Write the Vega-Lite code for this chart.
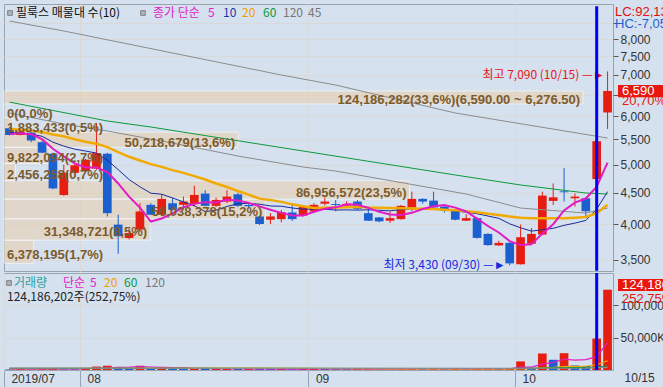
{
"$schema":"https://vega.github.io/schema/vega-lite/v6.json",
"background":"#d5e1ee",
"padding":{"left":3,"top":3,"right":0,"bottom":0},
"spacing":2,
"bounds":"flush",
"config":{
 "view":{"stroke":"#9aa4ae","fill":"#ffffff"},
 "axis":{"labelFont":"Liberation Sans","labelFontSize":12,"labelColor":"#333333","tickColor":"#555555","domain":false,"gridColor":"#d9d9d9","title":null},
 "text":{"font":"Noto Sans CJK KR","fontSize":12}
},
"datasets":{
"candles":[
{"d":"07/23","o":5730,"h":5760,"l":5580,"c":5590,"v":800000,"vc":"down"},
{"d":"07/24","o":5590,"h":5700,"l":5580,"c":5660,"v":1883433,"vc":"up"},
{"d":"07/25","o":5640,"h":5660,"l":5440,"c":5474,"v":800000,"vc":"down"},
{"d":"07/26","o":5440,"h":5474,"l":5220,"c":5229,"v":1500000,"vc":"up"},
{"d":"07/29","o":5210,"h":5230,"l":4560,"c":4575,"v":3000000,"vc":"up"},
{"d":"07/30","o":4465,"h":5000,"l":4450,"c":4850,"v":1300000,"vc":"down"},
{"d":"07/31","o":4850,"h":5010,"l":4830,"c":4990,"v":1156258,"vc":"down"},
{"d":"08/01","o":4880,"h":5110,"l":4870,"c":5095,"v":3000000,"vc":"up"},
{"d":"08/02","o":4928,"h":5843,"l":4904,"c":5223,"v":5300000,"vc":"up"},
{"d":"08/05","o":5210,"h":5230,"l":4119,"c":4170,"v":6600000,"vc":"up"},
{"d":"08/06","o":3995,"h":4146,"l":3582,"c":3825,"v":4500000,"vc":"down"},
{"d":"08/07","o":3801,"h":3940,"l":3780,"c":3872,"v":2600000,"vc":"down"},
{"d":"08/08","o":3921,"h":4328,"l":3900,"c":4197,"v":6600000,"vc":"up"},
{"d":"08/09","o":4302,"h":4328,"l":4140,"c":4146,"v":3000000,"vc":"down"},
{"d":"08/12","o":4146,"h":4475,"l":4130,"c":4399,"v":3500000,"vc":"up"},
{"d":"08/13","o":4328,"h":4420,"l":4210,"c":4223,"v":2500000,"vc":"down"},
{"d":"08/14","o":4302,"h":4437,"l":4239,"c":4355,"v":2000000,"vc":"down"},
{"d":"08/16","o":4318,"h":4621,"l":4275,"c":4465,"v":2500000,"vc":"up"},
{"d":"08/19","o":4487,"h":4545,"l":4280,"c":4286,"v":1800000,"vc":"down"},
{"d":"08/20","o":4286,"h":4420,"l":4270,"c":4383,"v":1900000,"vc":"up"},
{"d":"08/21","o":4355,"h":4545,"l":4330,"c":4437,"v":2000000,"vc":"up"},
{"d":"08/22","o":4475,"h":4500,"l":4270,"c":4286,"v":1500000,"vc":"down"},
{"d":"08/23","o":4300,"h":4330,"l":4240,"c":4280,"v":1550000,"vc":"up"},
{"d":"08/26","o":4119,"h":4130,"l":3990,"c":4004,"v":1450000,"vc":"down"},
{"d":"08/27","o":4069,"h":4170,"l":4004,"c":4119,"v":1400000,"vc":"down"},
{"d":"08/28","o":4078,"h":4220,"l":4030,"c":4186,"v":1600000,"vc":"up"},
{"d":"08/29","o":4181,"h":4302,"l":4050,"c":4078,"v":1200000,"vc":"down"},
{"d":"08/30","o":4130,"h":4290,"l":4120,"c":4275,"v":1800000,"vc":"up"},
{"d":"09/02","o":4197,"h":4330,"l":4170,"c":4302,"v":1850000,"vc":"up"},
{"d":"09/03","o":4320,"h":4420,"l":4290,"c":4355,"v":1600000,"vc":"down"},
{"d":"09/04","o":4315,"h":4380,"l":4200,"c":4300,"v":1400000,"vc":"down"},
{"d":"09/05","o":4290,"h":4360,"l":4260,"c":4318,"v":1300000,"vc":"down"},
{"d":"09/06","o":4355,"h":4380,"l":4220,"c":4239,"v":1500000,"vc":"up"},
{"d":"09/09","o":4170,"h":4275,"l":4050,"c":4054,"v":1600000,"vc":"up"},
{"d":"09/10","o":4104,"h":4110,"l":4030,"c":4044,"v":1200000,"vc":"down"},
{"d":"09/11","o":4054,"h":4197,"l":4020,"c":4093,"v":1100000,"vc":"down"},
{"d":"09/16","o":4078,"h":4300,"l":4070,"c":4286,"v":2000000,"vc":"up"},
{"d":"09/17","o":4260,"h":4520,"l":4197,"c":4399,"v":2200000,"vc":"up"},
{"d":"09/18","o":4399,"h":4410,"l":4320,"c":4355,"v":1500000,"vc":"down"},
{"d":"09/19","o":4371,"h":4520,"l":4250,"c":4260,"v":1600000,"vc":"up"},
{"d":"09/20","o":4275,"h":4290,"l":4180,"c":4207,"v":1300000,"vc":"down"},
{"d":"09/23","o":4207,"h":4220,"l":4060,"c":4069,"v":1500000,"vc":"up"},
{"d":"09/24","o":4054,"h":4155,"l":4050,"c":4093,"v":1200000,"vc":"down"},
{"d":"09/25","o":4093,"h":4104,"l":3790,"c":3801,"v":2000000,"vc":"up"},
{"d":"09/26","o":3858,"h":3870,"l":3690,"c":3700,"v":2300000,"vc":"up"},
{"d":"09/27","o":3696,"h":3760,"l":3690,"c":3731,"v":1800000,"vc":"down"},
{"d":"09/30","o":3731,"h":3740,"l":3430,"c":3455,"v":2300000,"vc":"up"},
{"d":"10/01","o":3444,"h":3995,"l":3440,"c":3811,"v":13300000,"vc":"up"},
{"d":"10/02","o":3718,"h":3944,"l":3700,"c":3858,"v":2500000,"vc":"down"},
{"d":"10/04","o":3849,"h":4520,"l":3840,"c":4454,"v":25500000,"vc":"up"},
{"d":"10/07","o":4366,"h":4661,"l":4300,"c":4425,"v":15800000,"vc":"down"},
{"d":"10/08","o":4525,"h":4940,"l":4355,"c":4510,"v":26000000,"vc":"up"},
{"d":"10/10","o":4409,"h":4490,"l":4275,"c":4437,"v":7000000,"vc":"down"},
{"d":"10/11","o":4409,"h":4430,"l":4119,"c":4200,"v":6200000,"vc":"down"},
{"d":"10/14","o":4738,"h":5460,"l":4700,"c":5460,"v":48600000,"vc":"up"},
{"d":"10/15","o":6080,"h":7090,"l":5715,"c":6590,"v":124186202,"vc":"up"}
],
"ma":[
{"d":"07/23","s":"5","p":5611},{"d":"07/24","s":"5","p":5625},{"d":"07/25","s":"5","p":5604},{"d":"07/26","s":"5","p":5501},{"d":"07/29","s":"5","p":5306},{"d":"07/30","s":"5","p":5158},{"d":"07/31","s":"5","p":5024},{"d":"08/01","s":"5","p":4948},{"d":"08/02","s":"5","p":4947},{"d":"08/05","s":"5","p":4866},{"d":"08/06","s":"5","p":4661},{"d":"08/07","s":"5","p":4437},{"d":"08/08","s":"5","p":4257},{"d":"08/09","s":"5","p":4042},{"d":"08/12","s":"5","p":4088},{"d":"08/13","s":"5","p":4167},{"d":"08/14","s":"5","p":4264},{"d":"08/16","s":"5","p":4318},{"d":"08/19","s":"5","p":4346},{"d":"08/20","s":"5","p":4342},{"d":"08/21","s":"5","p":4385},{"d":"08/22","s":"5","p":4371},{"d":"08/23","s":"5","p":4334},{"d":"08/26","s":"5","p":4278},{"d":"08/27","s":"5","p":4225},{"d":"08/28","s":"5","p":4175},{"d":"08/29","s":"5","p":4133},{"d":"08/30","s":"5","p":4132},{"d":"09/02","s":"5","p":4192},{"d":"09/03","s":"5","p":4239},{"d":"09/04","s":"5","p":4262},{"d":"09/05","s":"5","p":4310},{"d":"09/06","s":"5","p":4303},{"d":"09/09","s":"5","p":4253},{"d":"09/10","s":"5","p":4191},{"d":"09/11","s":"5","p":4150},{"d":"09/16","s":"5","p":4143},{"d":"09/17","s":"5","p":4175},{"d":"09/18","s":"5","p":4235},{"d":"09/19","s":"5","p":4279},{"d":"09/20","s":"5","p":4301},{"d":"09/23","s":"5","p":4258},{"d":"09/24","s":"5","p":4197},{"d":"09/25","s":"5","p":4086},{"d":"09/26","s":"5","p":3974},{"d":"09/27","s":"5","p":3879},{"d":"09/30","s":"5","p":3756},{"d":"10/01","s":"5","p":3700},{"d":"10/02","s":"5","p":3711},{"d":"10/04","s":"5","p":3862},{"d":"10/07","s":"5","p":4001},{"d":"10/08","s":"5","p":4212},{"d":"10/10","s":"5","p":4337},{"d":"10/11","s":"5","p":4405},{"d":"10/14","s":"5","p":4606},{"d":"10/15","s":"5","p":5039},
{"d":"07/23","s":"10","p":5646},{"d":"07/24","s":"10","p":5625},{"d":"07/25","s":"10","p":5604},{"d":"07/26","s":"10","p":5562},{"d":"07/29","s":"10","p":5440},{"d":"07/30","s":"10","p":5360},{"d":"07/31","s":"10","p":5300},{"d":"08/01","s":"10","p":5262},{"d":"08/02","s":"10","p":5223},{"d":"08/05","s":"10","p":5084},{"d":"08/06","s":"10","p":4909},{"d":"08/07","s":"10","p":4730},{"d":"08/08","s":"10","p":4603},{"d":"08/09","s":"10","p":4494},{"d":"08/12","s":"10","p":4477},{"d":"08/13","s":"10","p":4414},{"d":"08/14","s":"10","p":4351},{"d":"08/16","s":"10","p":4288},{"d":"08/19","s":"10","p":4194},{"d":"08/20","s":"10","p":4215},{"d":"08/21","s":"10","p":4276},{"d":"08/22","s":"10","p":4318},{"d":"08/23","s":"10","p":4326},{"d":"08/26","s":"10","p":4312},{"d":"08/27","s":"10","p":4284},{"d":"08/28","s":"10","p":4280},{"d":"08/29","s":"10","p":4252},{"d":"08/30","s":"10","p":4233},{"d":"09/02","s":"10","p":4235},{"d":"09/03","s":"10","p":4232},{"d":"09/04","s":"10","p":4219},{"d":"09/05","s":"10","p":4222},{"d":"09/06","s":"10","p":4218},{"d":"09/09","s":"10","p":4223},{"d":"09/10","s":"10","p":4215},{"d":"09/11","s":"10","p":4206},{"d":"09/16","s":"10","p":4227},{"d":"09/17","s":"10","p":4239},{"d":"09/18","s":"10","p":4244},{"d":"09/19","s":"10","p":4235},{"d":"09/20","s":"10","p":4226},{"d":"09/23","s":"10","p":4201},{"d":"09/24","s":"10","p":4186},{"d":"09/25","s":"10","p":4161},{"d":"09/26","s":"10","p":4126},{"d":"09/27","s":"10","p":4090},{"d":"09/30","s":"10","p":4007},{"d":"10/01","s":"10","p":3948},{"d":"10/02","s":"10","p":3899},{"d":"10/04","s":"10","p":3918},{"d":"10/07","s":"10","p":3940},{"d":"10/08","s":"10","p":3984},{"d":"10/10","s":"10","p":4018},{"d":"10/11","s":"10","p":4058},{"d":"10/14","s":"10","p":4234},{"d":"10/15","s":"10","p":4520},
{"d":"07/23","s":"20","p":5720},{"d":"07/24","s":"20","p":5700},{"d":"07/25","s":"20","p":5680},{"d":"07/26","s":"20","p":5650},{"d":"07/29","s":"20","p":5600},{"d":"07/30","s":"20","p":5560},{"d":"07/31","s":"20","p":5500},{"d":"08/01","s":"20","p":5450},{"d":"08/02","s":"20","p":5410},{"d":"08/05","s":"20","p":5340},{"d":"08/06","s":"20","p":5240},{"d":"08/07","s":"20","p":5150},{"d":"08/08","s":"20","p":5080},{"d":"08/09","s":"20","p":5010},{"d":"08/12","s":"20","p":4960},{"d":"08/13","s":"20","p":4900},{"d":"08/14","s":"20","p":4850},{"d":"08/16","s":"20","p":4790},{"d":"08/19","s":"20","p":4730},{"d":"08/20","s":"20","p":4660},{"d":"08/21","s":"20","p":4600},{"d":"08/22","s":"20","p":4530},{"d":"08/23","s":"20","p":4470},{"d":"08/26","s":"20","p":4403},{"d":"08/27","s":"20","p":4380},{"d":"08/28","s":"20","p":4350},{"d":"08/29","s":"20","p":4310},{"d":"08/30","s":"20","p":4280},{"d":"09/02","s":"20","p":4250},{"d":"09/03","s":"20","p":4255},{"d":"09/04","s":"20","p":4260},{"d":"09/05","s":"20","p":4265},{"d":"09/06","s":"20","p":4270},{"d":"09/09","s":"20","p":4260},{"d":"09/10","s":"20","p":4255},{"d":"09/11","s":"20","p":4250},{"d":"09/16","s":"20","p":4248},{"d":"09/17","s":"20","p":4245},{"d":"09/18","s":"20","p":4240},{"d":"09/19","s":"20","p":4235},{"d":"09/20","s":"20","p":4225},{"d":"09/23","s":"20","p":4215},{"d":"09/24","s":"20","p":4202},{"d":"09/25","s":"20","p":4185},{"d":"09/26","s":"20","p":4160},{"d":"09/27","s":"20","p":4140},{"d":"09/30","s":"20","p":4117},{"d":"10/01","s":"20","p":4100},{"d":"10/02","s":"20","p":4090},{"d":"10/04","s":"20","p":4092},{"d":"10/07","s":"20","p":4092},{"d":"10/08","s":"20","p":4092},{"d":"10/10","s":"20","p":4100},{"d":"10/11","s":"20","p":4110},{"d":"10/14","s":"20","p":4170},{"d":"10/15","s":"20","p":4305},
{"d":"07/23","s":"60","p":6321},{"d":"08/05","s":"60","p":5889},{"d":"08/09","s":"60","p":5758},{"d":"08/21","s":"60","p":5505},{"d":"08/30","s":"60","p":5263},{"d":"09/10","s":"60","p":5032},{"d":"09/23","s":"60","p":4811},{"d":"10/01","s":"60","p":4634},{"d":"10/11","s":"60","p":4497},{"d":"10/15","s":"60","p":4480},
{"d":"07/23","s":"120","p":8564},{"d":"07/30","s":"120","p":8249},{"d":"08/28","s":"120","p":6996},{"d":"09/04","s":"120","p":6738},{"d":"09/23","s":"120","p":6068},{"d":"10/15","s":"120","p":5525},
{"d":"07/23","s":"45","p":6068},{"d":"07/30","s":"45","p":5823},{"d":"08/05","s":"45","p":5672},{"d":"08/13","s":"45","p":5423},{"d":"08/22","s":"45","p":5165},{"d":"08/30","s":"45","p":4957},{"d":"09/04","s":"45","p":4883},{"d":"09/24","s":"45","p":4480},{"d":"10/01","s":"45","p":4251},{"d":"10/11","s":"45","p":4172},{"d":"10/15","s":"45","p":4251}
],
"vma":[
{"d":"07/23","s":"5","v":1500000},{"d":"07/24","s":"5","v":1400000},{"d":"07/25","s":"5","v":1300000},{"d":"07/26","s":"5","v":1300000},{"d":"07/29","s":"5","v":1600000},{"d":"07/30","s":"5","v":1700000},{"d":"07/31","s":"5","v":1550000},{"d":"08/01","s":"5","v":2000000},{"d":"08/02","s":"5","v":2750000},{"d":"08/05","s":"5","v":3470000},{"d":"08/06","s":"5","v":4110000},{"d":"08/07","s":"5","v":4400000},{"d":"08/08","s":"5","v":5120000},{"d":"08/09","s":"5","v":4660000},{"d":"08/12","s":"5","v":4040000},{"d":"08/13","s":"5","v":3640000},{"d":"08/14","s":"5","v":3520000},{"d":"08/16","s":"5","v":2700000},{"d":"08/19","s":"5","v":2460000},{"d":"08/20","s":"5","v":2140000},{"d":"08/21","s":"5","v":2040000},{"d":"08/22","s":"5","v":1940000},{"d":"08/23","s":"5","v":1750000},{"d":"08/26","s":"5","v":1680000},{"d":"08/27","s":"5","v":1580000},{"d":"08/28","s":"5","v":1500000},{"d":"08/29","s":"5","v":1440000},{"d":"08/30","s":"5","v":1490000},{"d":"09/02","s":"5","v":1570000},{"d":"09/03","s":"5","v":1610000},{"d":"09/04","s":"5","v":1570000},{"d":"09/05","s":"5","v":1590000},{"d":"09/06","s":"5","v":1530000},{"d":"09/09","s":"5","v":1480000},{"d":"09/10","s":"5","v":1400000},{"d":"09/11","s":"5","v":1340000},{"d":"09/16","s":"5","v":1480000},{"d":"09/17","s":"5","v":1620000},{"d":"09/18","s":"5","v":1600000},{"d":"09/19","s":"5","v":1680000},{"d":"09/20","s":"5","v":1720000},{"d":"09/23","s":"5","v":1620000},{"d":"09/24","s":"5","v":1420000},{"d":"09/25","s":"5","v":1520000},{"d":"09/26","s":"5","v":1660000},{"d":"09/27","s":"5","v":1760000},{"d":"09/30","s":"5","v":1920000},{"d":"10/01","s":"5","v":4340000},{"d":"10/02","s":"5","v":4440000},{"d":"10/04","s":"5","v":9080000},{"d":"10/07","s":"5","v":11880000},{"d":"10/08","s":"5","v":16620000},{"d":"10/10","s":"5","v":15360000},{"d":"10/11","s":"5","v":16100000},{"d":"10/14","s":"5","v":20720000},{"d":"10/15","s":"5","v":42400000},
{"d":"07/23","s":"20","v":2200000},{"d":"08/06","s":"20","v":2600000},{"d":"08/21","s":"20","v":3000000},{"d":"08/30","s":"20","v":2500000},{"d":"09/11","s":"20","v":1700000},{"d":"09/30","s":"20","v":1600000},{"d":"10/01","s":"20","v":2200000},{"d":"10/02","s":"20","v":2200000},{"d":"10/04","s":"20","v":3400000},{"d":"10/07","s":"20","v":4100000},{"d":"10/08","s":"20","v":5300000},{"d":"10/10","s":"20","v":5600000},{"d":"10/11","s":"20","v":5800000},{"d":"10/14","s":"20","v":8100000},{"d":"10/15","s":"20","v":14300000},
{"d":"07/23","s":"60","v":2600000},{"d":"08/21","s":"60","v":2600000},{"d":"09/30","s":"60","v":2300000},{"d":"10/01","s":"60","v":2500000},{"d":"10/04","s":"60","v":2900000},{"d":"10/08","s":"60","v":3600000},{"d":"10/11","s":"60","v":3800000},{"d":"10/14","s":"60","v":4600000},{"d":"10/15","s":"60","v":6600000},
{"d":"07/23","s":"120","v":2800000},{"d":"09/30","s":"120","v":2500000},{"d":"10/04","s":"120","v":2700000},{"d":"10/11","s":"120","v":3000000},{"d":"10/15","s":"120","v":4000000}
],
"profile":[
{"lo":6276.5,"hi":6590,"mid":6433,"vol":124186282,"label":"124,186,282(33,6%)(6,590.00 ~ 6,276.50)"},
{"lo":5963,"hi":6276.5,"mid":6120,"vol":0,"label":"0(0,0%)"},
{"lo":5649.5,"hi":5963,"mid":5806,"vol":1883433,"label":"1,883,433(0,5%)"},
{"lo":5336,"hi":5649.5,"mid":5493,"vol":50218679,"label":"50,218,679(13,6%)"},
{"lo":5022.5,"hi":5336,"mid":5179,"vol":9822094,"label":"9,822,094(2,7%)"},
{"lo":4709,"hi":5022.5,"mid":4866,"vol":2456258,"label":"2,456,258(0,7%)"},
{"lo":4395.5,"hi":4709,"mid":4552,"vol":86956572,"label":"86,956,572(23,5%)"},
{"lo":4082,"hi":4395.5,"mid":4239,"vol":56038378,"label":"56,038,378(15,2%)"},
{"lo":3768.5,"hi":4082,"mid":3925,"vol":31348721,"label":"31,348,721(8,5%)"},
{"lo":3455,"hi":3768.5,"mid":3612,"vol":6378195,"label":"6,378,195(1,7%)"}
]
},
"vconcat":[
{
 "width":609,"height":267,
 "resolve":{"scale":{"x":"independent"}},
 "layer":[
  {"data":{"name":"profile"},
   "mark":{"type":"rect","color":"#eccfa8","opacity":0.5,"stroke":"#ffffff","strokeWidth":1},
   "encoding":{
    "x":{"field":"vol","type":"quantitative","scale":{"domain":[0,130600000],"nice":false,"zero":true},"axis":null},
    "x2":{"datum":0},
    "y":{"field":"hi","type":"quantitative","scale":{"type":"log","domain":[3358,9127],"nice":false,"zero":false},
         "axis":{"orient":"right","values":[3500,4000,4500,5000,5500,6000,6500,7000,7500,8000,8500],"grid":true,"tickSize":5,"labelPadding":2,"labelOverlap":false,"labelExpr":"datum.value == 8500 || datum.value == 6500 ? '' : format(datum.value, ',')"}},
    "y2":{"field":"lo"}
   }},
  {"layer":[
   {"data":{"name":"candles"},"mark":{"type":"rule","strokeWidth":1},
    "encoding":{
     "x":{"field":"d","type":"ordinal","scale":{"type":"band","domain":["07/23","07/24","07/25","07/26","07/29","07/30","07/31","08/01","08/02","08/05","08/06","08/07","08/08","08/09","08/12","08/13","08/14","08/16","08/19","08/20","08/21","08/22","08/23","08/26","08/27","08/28","08/29","08/30","09/02","09/03","09/04","09/05","09/06","09/09","09/10","09/11","09/16","09/17","09/18","09/19","09/20","09/23","09/24","09/25","09/26","09/27","09/30","10/01","10/02","10/04","10/07","10/08","10/10","10/11","10/14","10/15"],"paddingInner":0,"paddingOuter":0},
          "axis":{"values":["08/01","09/02","10/01"],"bandPosition":0,"grid":true,"labels":false,"ticks":false,"domain":false,"tickSize":0,"labelPadding":0,"minExtent":0,"maxExtent":0}},
     "y":{"field":"l","type":"quantitative","scale":{"type":"log","domain":[3358,9127],"nice":false,"zero":false}},
     "y2":{"field":"h"},
     "color":{"condition":{"test":"datum.c >= datum.o","value":"#e61e12"},"value":"#1c5fcf"}
    }},
   {"data":{"name":"candles"},"mark":{"type":"bar","width":{"band":0.8}},
    "encoding":{
     "x":{"field":"d","type":"ordinal","scale":{"type":"band","domain":["07/23","07/24","07/25","07/26","07/29","07/30","07/31","08/01","08/02","08/05","08/06","08/07","08/08","08/09","08/12","08/13","08/14","08/16","08/19","08/20","08/21","08/22","08/23","08/26","08/27","08/28","08/29","08/30","09/02","09/03","09/04","09/05","09/06","09/09","09/10","09/11","09/16","09/17","09/18","09/19","09/20","09/23","09/24","09/25","09/26","09/27","09/30","10/01","10/02","10/04","10/07","10/08","10/10","10/11","10/14","10/15"],"paddingInner":0,"paddingOuter":0}},
     "y":{"field":"o","type":"quantitative","scale":{"type":"log","domain":[3358,9127],"nice":false,"zero":false}},
     "y2":{"field":"c"},
     "color":{"condition":{"test":"datum.c >= datum.o","value":"#e61e12"},"value":"#1c5fcf"}
    }},
   {"data":{"name":"ma"},"transform":[{"filter":"datum.s != '5' && datum.s != '20'"}],"mark":{"type":"line","strokeWidth":1},
    "encoding":{
     "x":{"field":"d","type":"ordinal","scale":{"type":"band","domain":["07/23","07/24","07/25","07/26","07/29","07/30","07/31","08/01","08/02","08/05","08/06","08/07","08/08","08/09","08/12","08/13","08/14","08/16","08/19","08/20","08/21","08/22","08/23","08/26","08/27","08/28","08/29","08/30","09/02","09/03","09/04","09/05","09/06","09/09","09/10","09/11","09/16","09/17","09/18","09/19","09/20","09/23","09/24","09/25","09/26","09/27","09/30","10/01","10/02","10/04","10/07","10/08","10/10","10/11","10/14","10/15"],"paddingInner":0,"paddingOuter":0}},
     "y":{"field":"p","type":"quantitative","scale":{"type":"log","domain":[3358,9127],"nice":false,"zero":false}},
     "color":{"field":"s","type":"nominal","scale":{"domain":["120","45","60","20","10","5"],"range":["#8c8c8c","#8c8c8c","#0c9a3c","#f2a900","#1a2a9c","#e21bc4"]},"legend":null}
    }},
   {"data":{"name":"ma"},"transform":[{"filter":"datum.s == '20'"}],"mark":{"type":"line","strokeWidth":2.5},
    "encoding":{
     "x":{"field":"d","type":"ordinal","scale":{"type":"band","domain":["07/23","07/24","07/25","07/26","07/29","07/30","07/31","08/01","08/02","08/05","08/06","08/07","08/08","08/09","08/12","08/13","08/14","08/16","08/19","08/20","08/21","08/22","08/23","08/26","08/27","08/28","08/29","08/30","09/02","09/03","09/04","09/05","09/06","09/09","09/10","09/11","09/16","09/17","09/18","09/19","09/20","09/23","09/24","09/25","09/26","09/27","09/30","10/01","10/02","10/04","10/07","10/08","10/10","10/11","10/14","10/15"],"paddingInner":0,"paddingOuter":0}},
     "y":{"field":"p","type":"quantitative","scale":{"type":"log","domain":[3358,9127],"nice":false,"zero":false}},
     "color":{"field":"s","type":"nominal","scale":{"domain":["120","45","60","20","10","5"],"range":["#8c8c8c","#8c8c8c","#0c9a3c","#f2a900","#1a2a9c","#e21bc4"]},"legend":null}
    }},
   {"data":{"name":"ma"},"transform":[{"filter":"datum.s == '5'"}],"mark":{"type":"line","strokeWidth":2},
    "encoding":{
     "x":{"field":"d","type":"ordinal","scale":{"type":"band","domain":["07/23","07/24","07/25","07/26","07/29","07/30","07/31","08/01","08/02","08/05","08/06","08/07","08/08","08/09","08/12","08/13","08/14","08/16","08/19","08/20","08/21","08/22","08/23","08/26","08/27","08/28","08/29","08/30","09/02","09/03","09/04","09/05","09/06","09/09","09/10","09/11","09/16","09/17","09/18","09/19","09/20","09/23","09/24","09/25","09/26","09/27","09/30","10/01","10/02","10/04","10/07","10/08","10/10","10/11","10/14","10/15"],"paddingInner":0,"paddingOuter":0}},
     "y":{"field":"p","type":"quantitative","scale":{"type":"log","domain":[3358,9127],"nice":false,"zero":false}},
     "color":{"field":"s","type":"nominal","scale":{"domain":["120","45","60","20","10","5"],"range":["#8c8c8c","#8c8c8c","#0c9a3c","#f2a900","#1a2a9c","#e21bc4"]},"legend":null}
    }},
   {"data":{"values":[{}]},
    "mark":{"type":"text","align":"right","baseline":"middle","dx":-3,"dy":4,"color":"#e8141c","font":"Noto Sans CJK KR","fontSize":12,"text":"최고 7,090 (10/15) —►"},
    "encoding":{"x":{"datum":"10/15","type":"ordinal"},"y":{"datum":7090,"type":"quantitative"}}},
   {"data":{"values":[{}]},
    "mark":{"type":"text","align":"right","baseline":"middle","dx":-4,"dy":0,"color":"#1428e0","font":"Noto Sans CJK KR","fontSize":12,"text":"최저 3,430 (09/30) —►"},
    "encoding":{"x":{"datum":"09/30","type":"ordinal"},"y":{"datum":3430,"type":"quantitative"}}},
   {"data":{"values":[{}]},
    "mark":{"type":"rect","x":614,"x2":662,"color":"#e8180f"},
    "encoding":{"y":{"datum":6737,"type":"quantitative"},"y2":{"datum":6438}}},
   {"data":{"values":[{}]},
    "mark":{"type":"text","x":618,"align":"left","baseline":"middle","color":"#ffffff","font":"Liberation Sans","fontSize":13,"text":"6,590"},
    "encoding":{"y":{"datum":6590,"type":"quantitative"}}},
   {"data":{"values":[{}]},
    "mark":{"type":"text","x":618,"align":"left","baseline":"middle","color":"#e8180f","font":"Liberation Sans","fontSize":13,"text":"20,70%"},
    "encoding":{"y":{"datum":6347,"type":"quantitative"}}},
   {"data":{"values":[{}]},"mark":{"type":"text","x":611,"y":8,"align":"left","baseline":"middle","color":"#e01010","font":"Liberation Sans","fontSize":13,"text":"LC:92,13%"}},
   {"data":{"values":[{}]},"mark":{"type":"text","x":611,"y":20,"align":"left","baseline":"middle","color":"#1f5fd0","font":"Liberation Sans","fontSize":13,"text":"HC:-7,05%"}},
   {"data":{"values":[{}]},"mark":{"type":"point","shape":"square","x":6,"y":9,"size":22,"filled":true,"color":"#a0a0a0","stroke":"#5a5a5a","strokeWidth":1}},
   {"data":{"values":[{}]},"mark":{"type":"point","shape":"square","x":139,"y":9,"size":22,"filled":true,"color":"#a0a0a0","stroke":"#5a5a5a","strokeWidth":1}},
   {"data":{"values":[{}]},"mark":{"type":"text","x":12,"y":9,"align":"left","baseline":"middle","color":"#111111","text":"필룩스 매물대 수(10)"}},
   {"data":{"values":[{}]},"mark":{"type":"text","x":149,"y":9,"align":"left","baseline":"middle","color":"#e11ec8","text":"종가 단순"}},
   {"data":{"values":[{}]},"mark":{"type":"text","x":204,"y":9,"align":"left","baseline":"middle","color":"#e11ec8","text":"5"}},
   {"data":{"values":[{}]},"mark":{"type":"text","x":219,"y":9,"align":"left","baseline":"middle","color":"#1a35b0","text":"10"}},
   {"data":{"values":[{}]},"mark":{"type":"text","x":238,"y":9,"align":"left","baseline":"middle","color":"#f0a000","text":"20"}},
   {"data":{"values":[{}]},"mark":{"type":"text","x":259,"y":9,"align":"left","baseline":"middle","color":"#0c9a3c","text":"60"}},
   {"data":{"values":[{}]},"mark":{"type":"text","x":279,"y":9,"align":"left","baseline":"middle","color":"#777777","text":"120"}},
   {"data":{"values":[{}]},"mark":{"type":"text","x":304,"y":9,"align":"left","baseline":"middle","color":"#777777","text":"45"}},
   {"data":{"values":[{}]},"mark":{"type":"rule","color":"#0000ff","strokeWidth":3},
    "encoding":{"x":{"datum":"10/14","type":"ordinal"},"y":{"datum":9050,"type":"quantitative"},"y2":{"datum":3362}}}
  ]},
  {"data":{"name":"profile"},
   "layer":[
    {"transform":[{"filter":"datum.vol >= 20000000"}],
     "mark":{"type":"text","align":"right","baseline":"middle","dx":-3,"dy":3,"font":"Liberation Sans","fontSize":13,"fontWeight":"bold","color":"#7b5b2e"},
     "encoding":{
      "x":{"field":"vol","type":"quantitative","scale":{"domain":[0,130600000],"nice":false,"zero":true},"axis":null},
      "y":{"field":"mid","type":"quantitative","scale":{"type":"log","domain":[3358,9127],"nice":false,"zero":false}},
      "text":{"field":"label"}}},
    {"transform":[{"filter":"datum.vol < 20000000"}],
     "mark":{"type":"text","align":"left","baseline":"middle","dx":3,"dy":3,"font":"Liberation Sans","fontSize":13,"fontWeight":"bold","color":"#7b5b2e"},
     "encoding":{
      "x":{"datum":0,"type":"quantitative","scale":{"domain":[0,130600000],"nice":false,"zero":true},"axis":null},
      "y":{"field":"mid","type":"quantitative","scale":{"type":"log","domain":[3358,9127],"nice":false,"zero":false}},
      "text":{"field":"label"}}}
   ]}
 ]
},
{
 "width":609,"height":97,
 "resolve":{"scale":{"color":"independent"}},
 "layer":[
  {"data":{"name":"candles"},"mark":{"type":"bar","width":{"band":0.8}},
   "encoding":{
    "x":{"field":"d","type":"ordinal","scale":{"type":"band","domain":["07/23","07/24","07/25","07/26","07/29","07/30","07/31","08/01","08/02","08/05","08/06","08/07","08/08","08/09","08/12","08/13","08/14","08/16","08/19","08/20","08/21","08/22","08/23","08/26","08/27","08/28","08/29","08/30","09/02","09/03","09/04","09/05","09/06","09/09","09/10","09/11","09/16","09/17","09/18","09/19","09/20","09/23","09/24","09/25","09/26","09/27","09/30","10/01","10/02","10/04","10/07","10/08","10/10","10/11","10/14","10/15"],"paddingInner":0,"paddingOuter":0},
         "axis":{"orient":"bottom","values":["07/23","08/01","09/02","10/01"],"bandPosition":0,"grid":true,"labelExpr":"datum.value == '07/23' ? '2019/07' : slice(datum.value, 0, 2)","labelAlign":"left","labelBaseline":"top","labelOffset":2,"labelAngle":0,"tickSize":18,"labelPadding":-15,"tickColor":"#97a3b0","labelOverlap":false}},
    "y":{"field":"v","type":"quantitative","scale":{"domain":[0,150000000],"nice":false,"zero":true},
         "axis":{"orient":"right","values":[50000000,100000000],"grid":true,"tickSize":5,"labelPadding":2,"labelOverlap":false,"labelExpr":"format(datum.value/1000, ',') + 'K'"}},
    "color":{"field":"vc","type":"nominal","scale":{"domain":["up","down"],"range":["#e61e12","#1c5fcf"]},"legend":null}
   }},
  {"data":{"name":"vma"},"mark":{"type":"line","strokeWidth":1.2},
   "encoding":{
    "x":{"field":"d","type":"ordinal","scale":{"type":"band","domain":["07/23","07/24","07/25","07/26","07/29","07/30","07/31","08/01","08/02","08/05","08/06","08/07","08/08","08/09","08/12","08/13","08/14","08/16","08/19","08/20","08/21","08/22","08/23","08/26","08/27","08/28","08/29","08/30","09/02","09/03","09/04","09/05","09/06","09/09","09/10","09/11","09/16","09/17","09/18","09/19","09/20","09/23","09/24","09/25","09/26","09/27","09/30","10/01","10/02","10/04","10/07","10/08","10/10","10/11","10/14","10/15"],"paddingInner":0,"paddingOuter":0}},
    "y":{"field":"v","type":"quantitative","scale":{"domain":[0,150000000],"nice":false,"zero":true}},
    "color":{"field":"s","type":"nominal","scale":{"domain":["120","60","20","5"],"range":["#8c8c8c","#0c9a3c","#f2a900","#e21bc4"]},"legend":null}
   }},
  {"data":{"values":[{}]},"mark":{"type":"rule","color":"#0000ff","strokeWidth":3},
   "encoding":{"x":{"datum":"10/14","type":"ordinal"}}},
  {"data":{"values":[{}]},"mark":{"type":"point","shape":"square","x":5,"y":10,"size":22,"filled":true,"color":"#a0a0a0","stroke":"#5a5a5a","strokeWidth":1}},
  {"data":{"values":[{}]},"mark":{"type":"text","x":10,"y":10,"align":"left","baseline":"middle","color":"#2f9fa0","text":"거래량"}},
  {"data":{"values":[{}]},"mark":{"type":"text","x":59,"y":10,"align":"left","baseline":"middle","color":"#e11ec8","text":"단순"}},
  {"data":{"values":[{}]},"mark":{"type":"text","x":86,"y":10,"align":"left","baseline":"middle","color":"#e11ec8","text":"5"}},
  {"data":{"values":[{}]},"mark":{"type":"text","x":100,"y":10,"align":"left","baseline":"middle","color":"#f0a000","text":"20"}},
  {"data":{"values":[{}]},"mark":{"type":"text","x":120,"y":10,"align":"left","baseline":"middle","color":"#0c9a3c","text":"60"}},
  {"data":{"values":[{}]},"mark":{"type":"text","x":141,"y":10,"align":"left","baseline":"middle","color":"#777777","text":"120"}},
  {"data":{"values":[{}]},"mark":{"type":"text","x":3,"y":24,"align":"left","baseline":"middle","color":"#222222","text":"124,186,202주(252,75%)"}},
  {"data":{"values":[{}]},"mark":{"type":"rect","x":614,"x2":662,"color":"#e8180f"},
   "encoding":{"y":{"datum":140700000,"type":"quantitative"},"y2":{"datum":122200000}}},
  {"data":{"values":[{}]},"mark":{"type":"text","x":618,"align":"left","baseline":"middle","color":"#ffffff","font":"Liberation Sans","fontSize":13,"text":"124,186,202"},
   "encoding":{"y":{"datum":131400000,"type":"quantitative"}}},
  {"data":{"values":[{}]},"mark":{"type":"text","x":618,"align":"left","baseline":"middle","color":"#e8180f","font":"Liberation Sans","fontSize":13,"text":"252,75%"},
   "encoding":{"y":{"datum":109800000,"type":"quantitative"}}},
  {"data":{"values":[{}]},"mark":{"type":"text","y":100,"align":"left","baseline":"top","dx":17,"font":"Liberation Sans","fontSize":12,"color":"#333333","text":"10/15"},
   "encoding":{"x":{"datum":"10/15","type":"ordinal"}}}
 ]
}
]
}
